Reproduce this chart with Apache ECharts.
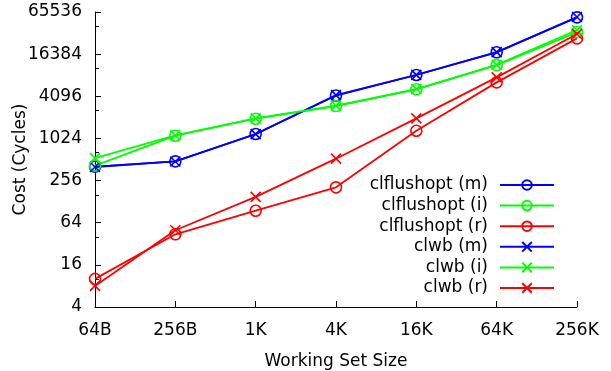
<!DOCTYPE html>
<html><head><meta charset="utf-8">
<script src="https://cdn.jsdelivr.net/npm/echarts@6/dist/echarts.min.js"></script>
<style>html,body{margin:0;padding:0;background:#fff}#c{width:611px;height:371px}</style>
</head><body><div id="c"></div>
<script>
var categories = ['64B','256B','1K','4K','16K','64K','256K'];
var clflushoptM = [405, 481, 1184, 4200, 8250, 17400, 55000];
var clflushoptI = [419, 1120, 1960, 2970, 5150, 11400, 33600];
var clflushoptR = [10.1, 43.7, 95, 205, 1320, 6470, 27500];
var clwbM = [400, 480, 1180, 4250, 8300, 17500, 55500];
var clwbI = [535, 1130, 1980, 3000, 5200, 11500, 36300];
var clwbR = [8, 50, 150, 526, 1980, 7640, 31800];
var seriesNames = ['clflushopt (m)','clflushopt (i)','clflushopt (r)','clwb (m)','clwb (i)','clwb (r)'];
var seriesData = [clflushoptM, clflushoptI, clflushoptR, clwbM, clwbI, clwbR];
var colors = ['#0000ff','#00ff00','#ff0000','#0000ff','#00ff00','#ff0000'];
var xPath = 'path://M0,0L10,10M10,0L0,10';
var font = 'DejaVu Sans';
var fs = 17;

var series = seriesData.map(function(d, i){
  var isX = i >= 3;
  return {
    name: seriesNames[i], type: 'line', data: d,
    symbol: isX ? xPath : 'circle',
    symbolSize: isX ? 10 : 11,
    showAllSymbol: true,
    lineStyle: {color: colors[i], width: 1.8},
    itemStyle: {color: 'none', borderColor: colors[i], borderWidth: 1.6},
    emphasis: {disabled: true},
    animation: false
  };
});

var chart = echarts.init(document.getElementById('c'), null, {renderer: 'canvas'});
chart.setOption({
  animation: false,
  backgroundColor: '#fff',
  grid: {left: 95, right: 34, top: 12, bottom: 64, containLabel: false, outerBoundsMode: 'none'},
  legend: {
    orient: 'vertical', align: 'right', right: 56, top: 175, padding: 0,
    itemWidth: 54, itemHeight: 12, itemGap: 0.6,
    textStyle: {fontFamily: font, fontSize: fs, color: '#000', lineHeight: 20, padding: [0, 7, 0, 0]},
    data: seriesNames
  },
  xAxis: {
    type: 'category', data: categories, boundaryGap: false,
    name: 'Working Set Size', nameLocation: 'middle', nameGap: 46, nameMoveOverlap: false,
    nameTextStyle: {fontFamily: font, fontSize: fs, color: '#000'},
    axisLine: {lineStyle: {color: '#000', width: 1}},
    axisTick: {inside: true, length: 6, alignWithLabel: true, lineStyle: {color: '#000'}},
    axisLabel: {fontFamily: font, fontSize: fs, color: '#000', margin: 15},
    splitLine: {show: false}
  },
  yAxis: {
    type: 'log', logBase: 2, min: 4, max: 65536, interval: 2,
    name: 'Cost (Cycles)', nameLocation: 'middle', nameGap: 66, nameMoveOverlap: false,
    nameTextStyle: {fontFamily: font, fontSize: fs, color: '#000'},
    axisLine: {show: true, lineStyle: {color: '#000', width: 1}},
    axisTick: {show: true, inside: true, length: 6, lineStyle: {color: '#000'}},
    minorTick: {show: true, splitNumber: 2, length: 4, lineStyle: {color: '#000'}},
    axisLabel: {fontFamily: font, fontSize: fs, color: '#000', margin: 13,
      formatter: function(v){ return String(Math.round(v)); }},
    splitLine: {show: false}
  },
  series: series
});
</script></body></html>
